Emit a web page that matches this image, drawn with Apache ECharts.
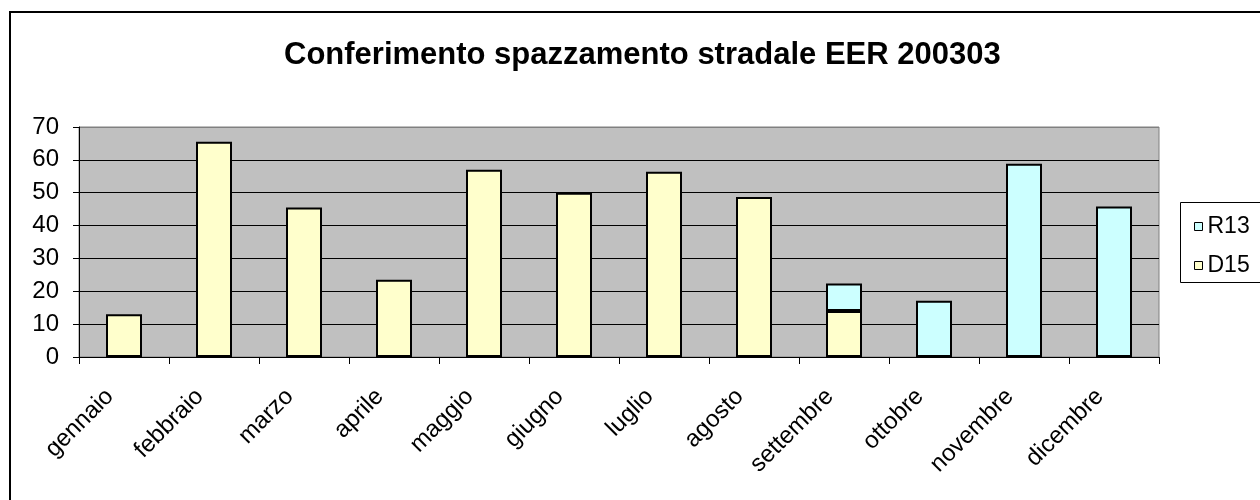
<!DOCTYPE html>
<html>
<head>
<meta charset="utf-8">
<script src="https://cdn.jsdelivr.net/npm/echarts@6/dist/echarts.min.js"></script>
<style>
html,body{margin:0;padding:0;background:#fff;}
#chart{width:1260px;height:500px;}
</style>
</head>
<body>
<div id="chart"></div>
<script>
var categories = ['gennaio','febbraio','marzo','aprile','maggio','giugno','luglio','agosto','settembre','ottobre','novembre','dicembre'];
var d15Values = [13, 65.5, 45.5, 23.5, 57, 50, 56.4, 48.7, 14, null, null, null];
var r13Values = [null, null, null, null, null, null, null, null, 8.4, 17.1, 58.8, 45.8];
var yTicks = [0, 10, 20, 30, 40, 50, 60, 70];
var titleText = 'Conferimento spazzamento stradale EER 200303';

var FONT = '"Liberation Sans", Arial, sans-serif';
var chart = echarts.init(document.getElementById('chart'));
chart.setOption({
  animation: false,
  backgroundColor: '#fff',
  title: {
    text: titleText,
    left: 279,
    top: 35,
    textStyle: {fontFamily: FONT, fontSize: 31, fontWeight: 'bold', color: '#000'}
  },
  graphic: [
    {type: 'rect', shape: {x: 10, y: 12, width: 1300, height: 520}, style: {fill: 'none', stroke: '#000', lineWidth: 2}, z: 100},
    {type: 'rect', shape: {x: 1180.5, y: 202.5, width: 200, height: 80}, style: {fill: '#fff', stroke: '#000', lineWidth: 1}, z: 0}
  ],
  legend: {
    orient: 'vertical',
    left: 1189,
    top: 210,
    itemGap: 16,
    itemWidth: 8,
    itemHeight: 8,
    itemTextGap: 13,
    icon: 'rect',
    data: ['R13', 'D15'],
    itemStyle: {borderColor: '#000', borderWidth: 1},
    textStyle: {fontFamily: FONT, fontSize: 23, color: '#000', lineHeight: 23}
  },
  grid: {
    left: 79, right: 101, top: 127, bottom: 143,
    show: true, backgroundColor: '#C0C0C0', borderColor: '#808080', borderWidth: 1
  },
  xAxis: {
    type: 'category',
    data: categories,
    axisLine: {lineStyle: {color: '#000', width: 1}},
    axisTick: {show: true, length: 7, inside: false, lineStyle: {color: '#000'}},
    axisLabel: {rotate: 45, interval: 0, margin: 50, verticalAlign: 'bottom', lineHeight: 40, fontFamily: FONT, fontSize: 24, color: '#000'}
  },
  yAxis: {
    type: 'value',
    min: yTicks[0],
    max: yTicks[yTicks.length - 1],
    interval: 10,
    axisLine: {show: true, lineStyle: {color: '#000', width: 1}},
    axisTick: {show: true, length: 6, lineStyle: {color: '#000'}},
    axisLabel: {margin: 20, fontFamily: FONT, fontSize: 24, color: '#000'},
    splitLine: {show: true, lineStyle: {color: ['#000','#000','#000','#000','#000','#000','#000','#808080'], width: 1}}
  },
  series: [
    {
      name: 'D15', type: 'bar', stack: 'tot', data: d15Values, barWidth: 36,
      itemStyle: {color: '#FFFFCC', borderColor: '#000', borderWidth: 2}
    },
    {
      name: 'R13', type: 'bar', stack: 'tot', data: r13Values, barWidth: 36,
      itemStyle: {color: '#CCFFFF', borderColor: '#000', borderWidth: 2}
    }
  ]
});
</script>
</body>
</html>
